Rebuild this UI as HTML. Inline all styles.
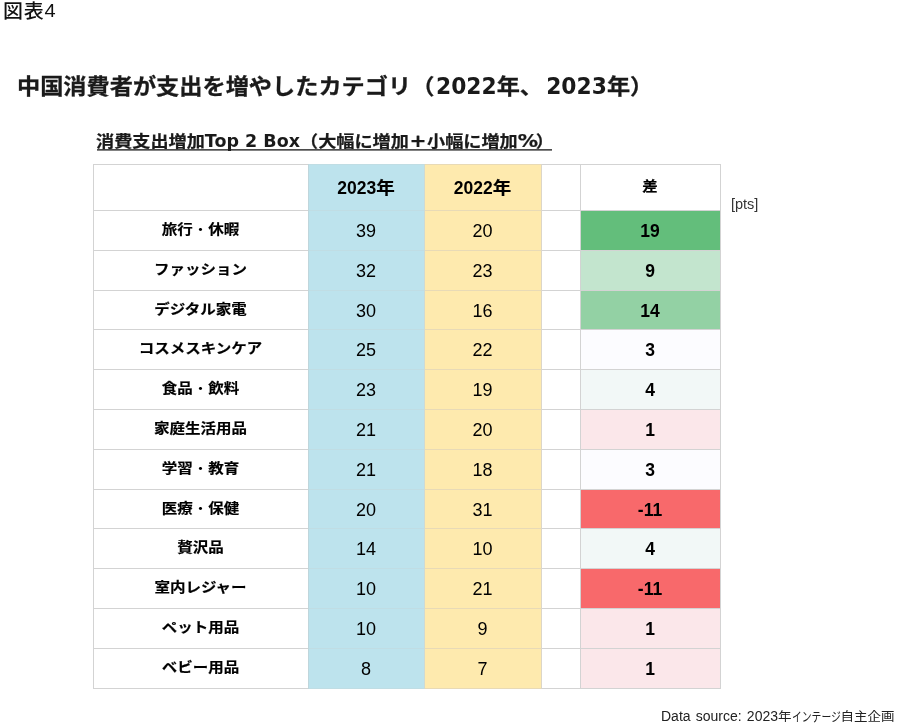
<!DOCTYPE html>
<html lang="ja"><head><meta charset="utf-8"><title>図表4</title>
<style>
html,body{margin:0;padding:0;background:#fff;}
body{width:897px;height:727px;position:relative;overflow:hidden;font-family:"Liberation Sans","Noto Sans CJK JP",sans-serif;color:#000;}
.a{position:absolute;white-space:nowrap;}
.fig{left:3px;top:-4px;font-size:20px;transform:scaleY(0.95);transform-origin:0 50%;line-height:30px;font-family:"Liberation Sans","Noto Sans CJK JP",sans-serif;color:#111;font-weight:500;}
.fig{letter-spacing:0.7px;}
.fig span{position:relative;top:-1px;}
.ttl{left:17px;top:70px;font-size:23.2px;line-height:34px;font-weight:bold;font-family:"DejaVu Sans","Noto Sans CJK JP",sans-serif;color:#1a1a1a;-webkit-text-stroke:0.3px #1a1a1a;transform:scaleY(0.92);transform-origin:0 50%;}
.ttl span{font-size:21.8px;margin-left:1.6px;display:inline-block;transform:scaleY(1.11);transform-origin:0 72%;-webkit-text-stroke:0;}
.ttl span+span{margin-left:3.2px;}
.sub{left:96px;top:128px;font-size:18.15px;line-height:28px;font-weight:bold;font-family:"DejaVu Sans","Noto Sans CJK JP",sans-serif;color:#1a1a1a;-webkit-text-stroke:0.25px #1a1a1a;transform:scaleY(0.9);transform-origin:0 50%;}
.sub span{font-size:17.5px;display:inline-block;transform:scaleY(1.12);transform-origin:0 72%;-webkit-text-stroke:0;}
.sub i{font-style:normal;display:inline-block;width:18.15px;font-size:1.12em;line-height:1;text-align:center;}
.subul{position:absolute;left:97px;top:149px;width:455px;height:1px;background:rgba(30,30,30,.8);box-shadow:0 1px 0 rgba(30,30,30,.55);}
.src{left:661px;top:704px;font-size:14px;line-height:24px;color:#222;word-spacing:1.3px;}
.src span{font-size:13.5px;display:inline-block;transform:scaleY(0.92);transform-origin:0 60%;}
.src b{font-weight:normal;display:inline-block;width:49px;height:24px;vertical-align:top;}
.src b em{font-style:normal;display:inline-block;transform:scale(0.7,0.92);transform-origin:0 60%;}
.pts{left:731px;top:195px;font-size:14.5px;line-height:18px;color:#333;}
.bg{position:absolute;}
.hl{position:absolute;height:1px;background:#d3d3d3;left:93px;width:628px;}
.vl{position:absolute;width:1px;background:#d3d3d3;top:164px;height:525px;}
.c{position:absolute;text-align:center;white-space:nowrap;}
.lab{font-weight:bold;font-size:15.5px;-webkit-text-stroke:0.2px #000;}
.lab span{display:inline-block;transform:scaleY(0.9);position:relative;top:-1px;}
.lab s{text-decoration:none;font-weight:400;-webkit-text-stroke:0;}
.num{font-size:18px;padding-top:1px;}
.dif{font-size:17.5px;font-weight:bold;padding-top:1px;}
.hd{font-size:17.5px;font-weight:bold;}
.hd span{font-size:1.06em;-webkit-text-stroke:0.2px #000;display:inline-block;transform:scaleY(0.93);}
</style></head><body>
<div class="a fig">図表<span>4</span></div>
<div class="a ttl">中国消費者が支出を増やしたカテゴリ（<span>2022</span>年、<span>2023</span>年）</div>
<div class="a sub">消費支出増加<span>Top 2 Box</span>（大幅に増加<i>+</i>小幅に増加<i>%</i>）</div>
<div class="subul"></div>
<div class="bg" style="left:308px;top:164px;width:116px;height:525px;background:#bde3ed"></div>
<div class="bg" style="left:425px;top:164px;width:117px;height:525px;background:#feeaae"></div>
<div class="bg" style="left:580px;top:210px;width:140px;height:40px;background:#63be7b"></div>
<div class="bg" style="left:580px;top:250px;width:140px;height:40px;background:#c3e5ce"></div>
<div class="bg" style="left:580px;top:290px;width:140px;height:39px;background:#93d1a4"></div>
<div class="bg" style="left:580px;top:329px;width:140px;height:40px;background:#fcfcff"></div>
<div class="bg" style="left:580px;top:369px;width:140px;height:40px;background:#f2f8f7"></div>
<div class="bg" style="left:580px;top:409px;width:140px;height:40px;background:#fbe7ea"></div>
<div class="bg" style="left:580px;top:449px;width:140px;height:40px;background:#fcfcff"></div>
<div class="bg" style="left:580px;top:489px;width:140px;height:39px;background:#f8696b"></div>
<div class="bg" style="left:580px;top:528px;width:140px;height:40px;background:#f2f8f7"></div>
<div class="bg" style="left:580px;top:568px;width:140px;height:40px;background:#f8696b"></div>
<div class="bg" style="left:580px;top:608px;width:140px;height:40px;background:#fbe7ea"></div>
<div class="bg" style="left:580px;top:648px;width:140px;height:40px;background:#fbe7ea"></div>
<div class="hl" style="top:164px"></div>
<div class="hl" style="top:210px"></div>
<div class="hl" style="top:250px"></div>
<div class="hl" style="top:290px"></div>
<div class="hl" style="top:329px"></div>
<div class="hl" style="top:369px"></div>
<div class="hl" style="top:409px"></div>
<div class="hl" style="top:449px"></div>
<div class="hl" style="top:489px"></div>
<div class="hl" style="top:528px"></div>
<div class="hl" style="top:568px"></div>
<div class="hl" style="top:608px"></div>
<div class="hl" style="top:648px"></div>
<div class="hl" style="top:688px"></div>
<div class="vl" style="left:93px"></div>
<div class="vl" style="left:308px"></div>
<div class="vl" style="left:424px"></div>
<div class="vl" style="left:541px"></div>
<div class="vl" style="left:580px"></div>
<div class="vl" style="left:720px"></div>
<div class="hl" style="top:164px;left:309px;width:115px;background:#c0dde4"></div>
<div class="hl" style="top:164px;left:425px;width:116px;background:#e8dab6"></div>
<div class="hl" style="top:210px;left:309px;width:115px;background:#c0dde4"></div>
<div class="hl" style="top:210px;left:425px;width:116px;background:#e8dab6"></div>
<div class="hl" style="top:250px;left:309px;width:115px;background:#c0dde4"></div>
<div class="hl" style="top:250px;left:425px;width:116px;background:#e8dab6"></div>
<div class="hl" style="top:290px;left:309px;width:115px;background:#c0dde4"></div>
<div class="hl" style="top:290px;left:425px;width:116px;background:#e8dab6"></div>
<div class="hl" style="top:329px;left:309px;width:115px;background:#c0dde4"></div>
<div class="hl" style="top:329px;left:425px;width:116px;background:#e8dab6"></div>
<div class="hl" style="top:369px;left:309px;width:115px;background:#c0dde4"></div>
<div class="hl" style="top:369px;left:425px;width:116px;background:#e8dab6"></div>
<div class="hl" style="top:409px;left:309px;width:115px;background:#c0dde4"></div>
<div class="hl" style="top:409px;left:425px;width:116px;background:#e8dab6"></div>
<div class="hl" style="top:449px;left:309px;width:115px;background:#c0dde4"></div>
<div class="hl" style="top:449px;left:425px;width:116px;background:#e8dab6"></div>
<div class="hl" style="top:489px;left:309px;width:115px;background:#c0dde4"></div>
<div class="hl" style="top:489px;left:425px;width:116px;background:#e8dab6"></div>
<div class="hl" style="top:528px;left:309px;width:115px;background:#c0dde4"></div>
<div class="hl" style="top:528px;left:425px;width:116px;background:#e8dab6"></div>
<div class="hl" style="top:568px;left:309px;width:115px;background:#c0dde4"></div>
<div class="hl" style="top:568px;left:425px;width:116px;background:#e8dab6"></div>
<div class="hl" style="top:608px;left:309px;width:115px;background:#c0dde4"></div>
<div class="hl" style="top:608px;left:425px;width:116px;background:#e8dab6"></div>
<div class="hl" style="top:648px;left:309px;width:115px;background:#c0dde4"></div>
<div class="hl" style="top:648px;left:425px;width:116px;background:#e8dab6"></div>
<div class="hl" style="top:688px;left:309px;width:115px;background:#c0dde4"></div>
<div class="hl" style="top:688px;left:425px;width:116px;background:#e8dab6"></div>
<div class="vl" style="left:424px;background:#cfdad2"></div>
<div class="vl" style="left:308px;background:#bfd6dc"></div>
<div class="vl" style="left:541px;background:#dcd6c8"></div>
<div class="c hd" style="left:308px;width:116px;top:164px;height:47px;line-height:47px">2023<span>年</span></div>
<div class="c hd" style="left:424px;width:117px;top:164px;height:47px;line-height:47px">2022<span>年</span></div>
<div class="c lab" style="left:580px;width:140px;top:164px;height:47px;line-height:47px"><span>差</span></div>
<div class="c lab" style="left:93px;width:215px;top:210px;height:41px;line-height:41px"><span>旅行<s>・</s>休暇</span></div>
<div class="c num" style="left:308px;width:116px;top:210px;height:41px;line-height:41px">39</div>
<div class="c num" style="left:424px;width:117px;top:210px;height:41px;line-height:41px">20</div>
<div class="c dif" style="left:580px;width:140px;top:210px;height:41px;line-height:41px">19</div>
<div class="c lab" style="left:93px;width:215px;top:250px;height:41px;line-height:41px"><span>ファッション</span></div>
<div class="c num" style="left:308px;width:116px;top:250px;height:41px;line-height:41px">32</div>
<div class="c num" style="left:424px;width:117px;top:250px;height:41px;line-height:41px">23</div>
<div class="c dif" style="left:580px;width:140px;top:250px;height:41px;line-height:41px">9</div>
<div class="c lab" style="left:93px;width:215px;top:290px;height:40px;line-height:40px"><span>デジタル家電</span></div>
<div class="c num" style="left:308px;width:116px;top:290px;height:40px;line-height:40px">30</div>
<div class="c num" style="left:424px;width:117px;top:290px;height:40px;line-height:40px">16</div>
<div class="c dif" style="left:580px;width:140px;top:290px;height:40px;line-height:40px">14</div>
<div class="c lab" style="left:93px;width:215px;top:329px;height:41px;line-height:41px"><span>コスメスキンケア</span></div>
<div class="c num" style="left:308px;width:116px;top:329px;height:41px;line-height:41px">25</div>
<div class="c num" style="left:424px;width:117px;top:329px;height:41px;line-height:41px">22</div>
<div class="c dif" style="left:580px;width:140px;top:329px;height:41px;line-height:41px">3</div>
<div class="c lab" style="left:93px;width:215px;top:369px;height:41px;line-height:41px"><span>食品<s>・</s>飲料</span></div>
<div class="c num" style="left:308px;width:116px;top:369px;height:41px;line-height:41px">23</div>
<div class="c num" style="left:424px;width:117px;top:369px;height:41px;line-height:41px">19</div>
<div class="c dif" style="left:580px;width:140px;top:369px;height:41px;line-height:41px">4</div>
<div class="c lab" style="left:93px;width:215px;top:409px;height:41px;line-height:41px"><span>家庭生活用品</span></div>
<div class="c num" style="left:308px;width:116px;top:409px;height:41px;line-height:41px">21</div>
<div class="c num" style="left:424px;width:117px;top:409px;height:41px;line-height:41px">20</div>
<div class="c dif" style="left:580px;width:140px;top:409px;height:41px;line-height:41px">1</div>
<div class="c lab" style="left:93px;width:215px;top:449px;height:41px;line-height:41px"><span>学習<s>・</s>教育</span></div>
<div class="c num" style="left:308px;width:116px;top:449px;height:41px;line-height:41px">21</div>
<div class="c num" style="left:424px;width:117px;top:449px;height:41px;line-height:41px">18</div>
<div class="c dif" style="left:580px;width:140px;top:449px;height:41px;line-height:41px">3</div>
<div class="c lab" style="left:93px;width:215px;top:489px;height:40px;line-height:40px"><span>医療<s>・</s>保健</span></div>
<div class="c num" style="left:308px;width:116px;top:489px;height:40px;line-height:40px">20</div>
<div class="c num" style="left:424px;width:117px;top:489px;height:40px;line-height:40px">31</div>
<div class="c dif" style="left:580px;width:140px;top:489px;height:40px;line-height:40px">-11</div>
<div class="c lab" style="left:93px;width:215px;top:528px;height:41px;line-height:41px"><span>贅沢品</span></div>
<div class="c num" style="left:308px;width:116px;top:528px;height:41px;line-height:41px">14</div>
<div class="c num" style="left:424px;width:117px;top:528px;height:41px;line-height:41px">10</div>
<div class="c dif" style="left:580px;width:140px;top:528px;height:41px;line-height:41px">4</div>
<div class="c lab" style="left:93px;width:215px;top:568px;height:41px;line-height:41px"><span>室内レジャー</span></div>
<div class="c num" style="left:308px;width:116px;top:568px;height:41px;line-height:41px">10</div>
<div class="c num" style="left:424px;width:117px;top:568px;height:41px;line-height:41px">21</div>
<div class="c dif" style="left:580px;width:140px;top:568px;height:41px;line-height:41px">-11</div>
<div class="c lab" style="left:93px;width:215px;top:608px;height:41px;line-height:41px"><span>ペット用品</span></div>
<div class="c num" style="left:308px;width:116px;top:608px;height:41px;line-height:41px">10</div>
<div class="c num" style="left:424px;width:117px;top:608px;height:41px;line-height:41px">9</div>
<div class="c dif" style="left:580px;width:140px;top:608px;height:41px;line-height:41px">1</div>
<div class="c lab" style="left:93px;width:215px;top:648px;height:41px;line-height:41px"><span>ベビー用品</span></div>
<div class="c num" style="left:308px;width:116px;top:648px;height:41px;line-height:41px">8</div>
<div class="c num" style="left:424px;width:117px;top:648px;height:41px;line-height:41px">7</div>
<div class="c dif" style="left:580px;width:140px;top:648px;height:41px;line-height:41px">1</div>
<div class="a pts">[pts]</div>
<div class="a src">Data source: 2023<span>年</span><b><em>インテージ</em></b><span>自主企画</span></div>
</body></html>
